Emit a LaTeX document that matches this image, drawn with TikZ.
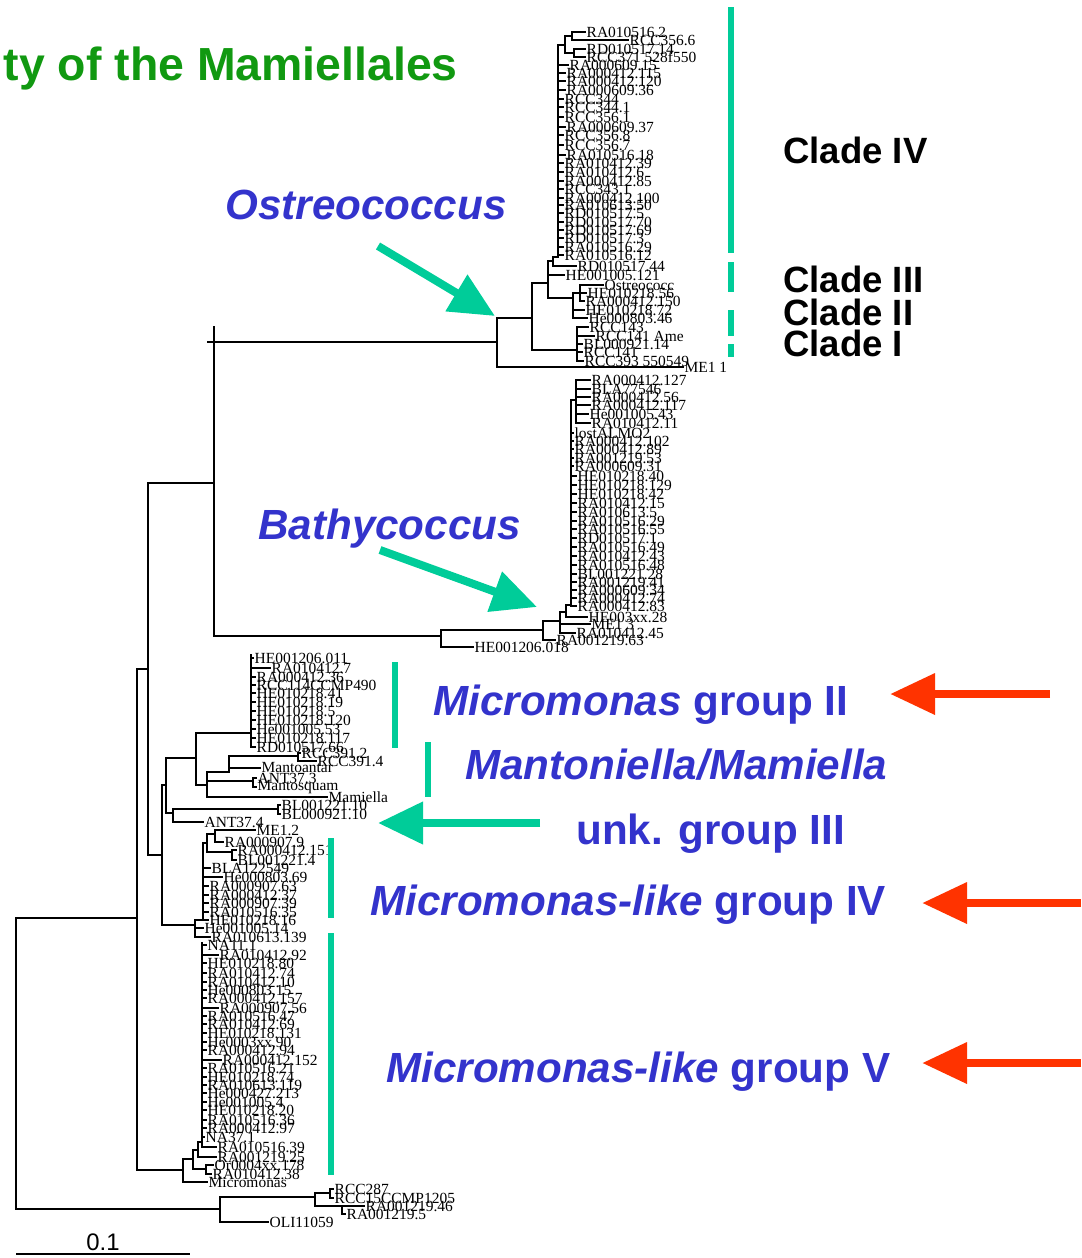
\documentclass[tikz,border=0pt]{standalone}
\usepackage{fontspec}
\setmainfont{Liberation Serif}
\setsansfont{Liberation Sans}
\usepackage{tikz}
\usetikzlibrary{arrows.meta, positioning}
\definecolor{mamblue}{RGB}{51,51,204}
\definecolor{mamteal}{RGB}{0,204,153}
\definecolor{mamred}{RGB}{255,51,0}
\definecolor{mamgreen}{RGB}{17,153,17}
\tikzset{
    branch/.style={line width=1.7pt, line cap=rect},
    leaf/.style={anchor=west, inner sep=1pt, font=\fontsize{11pt}{11pt}\selectfont},
    genus/.style={anchor=base west, inner sep=0pt, text=mamblue, font=\sffamily\bfseries\itshape\fontsize{30pt}{30pt}\selectfont},
    grouplabel/.style={anchor=base west, inner sep=0pt, text=mamblue, font=\sffamily\bfseries\fontsize{30pt}{30pt}\selectfont},
    cladelabel/.style={anchor=base west, inner sep=0pt, font=\sffamily\bfseries\fontsize{26pt}{26pt}\selectfont},
    cladebar/.style={draw=mamteal, line width=3.6pt},
    pointer/.style={draw=mamteal, line width=5.7pt, -{Triangle[length=32pt, width=29pt]}},
    redpointer/.style={draw=mamred, line width=6.2pt, -{Triangle[length=32pt, width=28pt]}}
}

\begin{document}
\begin{tikzpicture}[x=0.025cm, y=-0.025cm]
    \useasboundingbox (0,0) rectangle (1081,1258);

    % backbone
    \coordinate (root) at (16,1063);
    \coordinate (n137) at (137,918);
    \coordinate (n148) at (148,669);
    \coordinate (n214) at (214,483);
    \coordinate (n162) at (162,855);
    \coordinate (n166) at (166,785);
    \coordinate (n195) at (195,925);
    \coordinate (n183) at (183,1170);
    \coordinate (nout) at (220,1209);
    \draw [branch] (root) |- (n137) (root) |- (nout);
    \draw [branch] (n137) |- (n148) (n137) |- (n183);
    \draw [branch] (n148) |- (n214) (n148) |- (n162);
    \draw [branch] (n162) |- (n166) (n162) |- (n195);

    % Ostreococcus
    \coordinate (n497) at (497,342);
    \coordinate (n532) at (532,318);
    \coordinate (n548) at (548,283);
    \coordinate (n553) at (553,261);
    \coordinate (ivT) at (558,45);
    \coordinate (ivB) at (558,257);
    \coordinate (nIVa) at (565,45);
    \coordinate (nIVb) at (572,36);
    \coordinate (nIVc) at (574,53);
    \coordinate (nII) at (573,298);
    \coordinate (nIIa) at (580,293);
    \coordinate (nI) at (577,350);
    \draw [branch] (n214 |- n497) ++(-6,0) -- ++(6,0) -- ++(0,-15);
    \draw [branch] (n214) |- (n497);
    \node (me11) [leaf] at (683,367) {ME1 1};
    \draw [branch] (n497) |- (n532) (n497) |- (me11);
    \draw [branch] (n532) |- (n548) (n532) |- (nI);
    \node (he001005121) [leaf] at (564,275) {HE001005.121};
    \node (rd01051744) [leaf] at (576,266) {RD010517.44};
    \draw [branch] (n548) |- (n553) (n548) |- (he001005121) (n548) |- (nII);
    \draw [branch] (n553) |- (ivB) (n553) |- (rd01051744);
    \draw [branch] (ivT) -- (ivB) (ivT) -- (nIVa);
    \draw [branch] (nIVa) |- (nIVb) (nIVa) |- (nIVc);
    \node (ra0105162) [leaf] at (585,32) {RA010516.2};
    \node (rcc3566) [leaf] at (628,40) {RCC356.6};
    \node (rd01051714) [leaf] at (585,49) {RD010517.14};
    \node (rcc371) [leaf] at (585,57) {RCC371 528f550};
    \draw [branch] (nIVb) |- (ra0105162) (nIVb) |- (rcc3566);
    \draw [branch] (nIVc) |- (rd01051714) (nIVc) |- (rcc371);
    \foreach \yy/\tx/\lab [count=\i] in {65/568/RA000609.15, 73/565/RA000412.115, 81/565/RA000412.120,
        90/565/RA000609.36, 99/563/RCC344, 107/563/RCC344.1, 117/563/RCC356.1, 127/565/RA000609.37,
        135/563/RCC356.8, 145/563/RCC356.7, 155/565/RA010516.18, 163/563/RA010412.39, 172/563/RA010412.6,
        181/563/RA000412.85, 189/563/RCC343.1, 198/563/RA000412.100, 205/563/RA010613.50, 213/563/RD010517.5,
        222/563/RD010517.70, 230/563/RD010517.69, 238/563/RD010517.3, 247/563/RA010516.29, 255/563/RA010516.12} {
        \node (iv\i) [leaf] at (\tx,\yy) {\lab};
        \draw [branch] (ivT |- iv\i) -- (iv\i);
    }
    \node (ostreococc) [leaf] at (603,285) {Ostreococc};
    \node (he01021856) [leaf] at (586,293) {HE010218.56};
    \node (ra000412150) [leaf] at (584,301) {RA000412.150};
    \node (he01021872) [leaf] at (584,310) {HE010218.72};
    \node (he00080346) [leaf] at (587,318) {He000803.46};
    \draw [branch] (nII) |- (nIIa) (nII) |- (he01021872) (nII) |- (he00080346);
    \draw [branch] (nIIa) |- (ostreococc) (nIIa) |- (he01021856) (nIIa) |- (ra000412150);
    \foreach \yy/\tx/\lab [count=\i] in {327/588/RCC143, 336/594/RCC141 Ame, 344/582/BL000921.14,
        352/582/RCC141, 361/583/RCC393 550549} {
        \node (ci\i) [leaf] at (\tx,\yy) {\lab};
        \draw [branch] (nI) |- (ci\i);
    }

    % Bathycoccus
    \coordinate (n441) at (441,636);
    \coordinate (n543) at (543,630);
    \coordinate (n560) at (560,621);
    \coordinate (n566) at (566,612);
    \coordinate (bT) at (571,400);
    \coordinate (bB) at (571,605);
    \coordinate (nBt) at (576,400);
    \node (he001206018) [leaf] at (473,647) {HE001206.018};
    \node (ra00121963) [leaf] at (555,640) {RA001219.63};
    \node (me13) [leaf] at (590,624) {ME1 3};
    \node (ra01041245) [leaf] at (575,633) {RA010412.45};
    \node (he003xx28) [leaf] at (587,617) {HE003xx.28};
    \draw [branch] (n214) |- (n441);
    \draw [branch] (n441) |- (n543) (n441) |- (he001206018);
    \draw [branch] (n543) |- (n560) (n543) |- (ra00121963);
    \draw [branch] (n560) |- (n566) (n560) |- (me13) (n560) |- (ra01041245);
    \draw [branch] (n566) |- (bB) (n566) |- (he003xx28);
    \draw [branch] (bT) -- (bB) (bT) -- (nBt);
    \foreach \yy/\tx/\lab [count=\i] in {380/590/RA000412.127, 389/590/BLA77546, 397/590/RA000412.56,
        405/590/RA000412.117, 414/588/He001005.43, 423/590/RA010412.11} {
        \node (bt\i) [leaf] at (\tx,\yy) {\lab};
        \draw [branch] (nBt) |- (bt\i);
    }
    \foreach \yy/\tx/\lab [count=\i] in {433/573/lostALMO2, 441/573/RA000412.102, 449/573/RA000412.89,
        458/573/RA001219.53, 466/573/RA000609.31, 476/576/HE010218.40, 485/576/HE010218.129,
        494/576/HE010218.42, 503/576/RA010412.15, 512/576/RA010613.5, 521/576/RA010516.29,
        529/576/RA010516.55, 538/576/RD010517.1, 547/576/RA010516.49, 556/576/RA010412.43,
        565/576/RA010516.48, 574/576/BL001221.28, 582/576/RA001219.41, 590/576/RA000609.34,
        598/576/RA000412.74, 606/576/RA000412.83} {
        \node (bc\i) [leaf] at (\tx,\yy) {\lab};
        \draw [branch] (bT |- bc\i) -- (bc\i);
    }

    % Micromonas group II and Mantoniella
    \coordinate (n196) at (196,758);
    \coordinate (n207) at (207,785);
    \coordinate (n229) at (229,772);
    \coordinate (nRCC) at (298,756);
    \coordinate (nAnt) at (253,781);
    \coordinate (n173) at (173,813);
    \coordinate (nBL) at (278,809);
    \coordinate (g2T) at (251,655);
    \coordinate (g2A) at (251,733);
    \coordinate (g2B) at (251,747);
    \draw [branch] (n166) |- (n196) (n166) |- (n173);
    \draw [branch] (n196) |- (g2A) (n196) |- (n207);
    \draw [branch] (g2T) -- (g2B);
    \foreach \yy/\tx/\lab [count=\i] in {658/253/HE001206.011, 668/270/RA010412.7, 677/255/RA000412.36,
        685/255/RCC114CCMP490, 693/255/HE010218.41, 702/255/HE010218.19, 711/255/HE010218.5,
        720/255/HE010218.120, 729/255/He001005.53, 738/255/HE010218.117, 747/255/RD010517.66} {
        \node (gii\i) [leaf] at (\tx,\yy) {\lab};
        \draw [branch] (g2T |- gii\i) -- (gii\i);
    }
    \node (rcc3912) [leaf] at (300,753) {RCC391.2};
    \node (rcc3914) [leaf] at (316,761) {RCC391.4};
    \node (mantoantar) [leaf] at (260,768) {Mantoantar};
    \node (ant373) [leaf] at (256,778) {ANT37.3};
    \node (mantosquam) [leaf] at (256,787) {Mantosquam};
    \node (mamiella) [leaf] at (327,797) {Mamiella};
    \draw [branch] (n207) |- (n229) (n207) |- (nAnt) (n207) |- (mamiella);
    \draw [branch] (n229) |- (nRCC) (n229) |- (mantoantar);
    \draw [branch] (nRCC) |- (rcc3912) (nRCC) |- (rcc3914);
    \draw [branch] (nAnt) |- (ant373) (nAnt) |- (mantosquam);
    \node (bl00122110) [leaf] at (280,805) {BL001221.10};
    \node (bl00092110) [leaf] at (280,814) {BL000921.10};
    \node (ant374) [leaf] at (203,822) {ANT37.4};
    \draw [branch] (n173) |- (nBL) (n173) |- (ant374);
    \draw [branch] (nBL) |- (bl00122110) (nBL) |- (bl00092110);

    % Micromonas-like group IV
    \coordinate (g4T) at (203,843);
    \coordinate (g4B) at (203,920);
    \coordinate (gA) at (207,843);
    \coordinate (gB) at (215,834);
    \coordinate (gC) at (232,852);
    \node (he00100514) [leaf] at (203,928) {He001005.14};
    \node (ra010613139) [leaf] at (210,937) {RA010613.139};
    \draw [branch] (n195) |- (g4B) (n195) |- (he00100514) (n195) |- (ra010613139);
    \draw [branch] (g4T) -- (g4B) (g4T) -- (gA);
    \draw [branch] (gA) |- (gB) (gA) |- (gC);
    \node (me12) [leaf] at (255,830) {ME1.2};
    \node (ra0009079) [leaf] at (223,842) {RA000907.9};
    \node (ra000412151) [leaf] at (236,850) {RA000412.151};
    \node (bl0012214) [leaf] at (236,860) {BL001221.4};
    \draw [branch] (gB) |- (me12) (gB) |- (ra0009079);
    \draw [branch] (gC) |- (ra000412151) (gC) |- (bl0012214);
    \foreach \yy/\tx/\lab [count=\i] in {868/210/BLA122549, 877/222/He000803.69, 886/208/RA000907.63,
        895/208/RA000412.37, 903/208/RA000907.39, 912/208/RA010516.35, 920/208/HE010218.16} {
        \node (giv\i) [leaf] at (\tx,\yy) {\lab};
        \draw [branch] (g4T |- giv\i) -- (giv\i);
    }

    % Micromonas-like group V
    \coordinate (n193) at (193,1159);
    \coordinate (n198) at (198,1150);
    \coordinate (n206) at (206,1169);
    \coordinate (g5T) at (202,943);
    \coordinate (g5A) at (202,1142);
    \coordinate (g5B) at (202,1147);
    \node (micromonas) [leaf] at (207,1182) {Micromonas};
    \node (or0004xx178) [leaf] at (213,1165) {Or0004xx.178};
    \node (ra01041238) [leaf] at (211,1174) {RA010412.38};
    \node (ra00121925) [leaf] at (216,1157) {RA001219.25};
    \draw [branch] (n183) |- (n193) (n183) |- (micromonas);
    \draw [branch] (n193) |- (n198) (n193) |- (n206);
    \draw [branch] (n206) |- (or0004xx178) (n206) |- (ra01041238);
    \draw [branch] (n198) |- (g5A) (n198) |- (ra00121925);
    \draw [branch] (g5T) -- (g5B);
    \foreach \yy/\tx/\lab [count=\i] in {945/206/NA11.1, 955/218/RA010412.92, 963/206/HE010218.80,
        973/206/RA010412.74, 982/206/RA010412.10, 990/206/He000803.15, 998/206/RA000412.157,
        1008/218/RA000907.56, 1016/206/RA010516.47, 1024/206/RA010412.69, 1033/206/HE010218.131,
        1042/206/He0003xx.90, 1050/206/RA000412.94, 1060/221/RA000412.152, 1068/206/RA010516.21,
        1077/206/HE010218.74, 1085/206/RA010613.119, 1093/206/He000427.213, 1102/206/He001005.4,
        1110/206/HE010218.20, 1120/206/RA010516.36, 1128/206/RA000412.97, 1137/204/NA37.1,
        1147/216/RA010516.39} {
        \node (gv\i) [leaf] at (\tx,\yy) {\lab};
        \draw [branch] (g5T |- gv\i) -- (gv\i);
    }

    % outgroup
    \coordinate (n315) at (315,1197);
    \coordinate (nP1) at (330,1193);
    \coordinate (nP2) at (342,1206);
    \node (oli11059) [leaf] at (268,1222) {OLI11059};
    \node (rcc287) [leaf] at (333,1189) {RCC287};
    \node (rcc15) [leaf] at (333,1198) {RCC15CCMP1205};
    \node (ra00121946) [leaf] at (364,1206) {RA001219.46};
    \node (ra0012195) [leaf] at (345,1214) {RA001219.5};
    \draw [branch] (nout) |- (n315) (nout) |- (oli11059);
    \draw [branch] (n315) |- (nP1) (n315) |- (nP2);
    \draw [branch] (nP1) |- (rcc287) (nP1) |- (rcc15);
    \draw [branch] (nP2) |- (ra00121946) (nP2) |- (ra0012195);

    % scale bar
    \coordinate (sbL) at (16,1254);
    \coordinate (sbR) at (190,1254);
    \draw [branch, line cap=butt] (sbL) -- coordinate (sbM) (sbR);
    \node (scale) [above=2pt of sbM, inner sep=0pt, font=\sffamily\fontsize{17pt}{17pt}\selectfont] {0.1};

    % clade bars
    \draw [cladebar] (731,7) -- (731,253);
    \draw [cladebar] (731,262) -- (731,292);
    \draw [cladebar] (731,310) -- (731,336);
    \draw [cladebar] (731,344) -- (731,357);
    \draw [cladebar] (395,662) -- (395,748);
    \draw [cladebar] (428,742) -- (428,797);
    \draw [cladebar] (331,838) -- (331,918);
    \draw [cladebar] (331,933) -- (331,1175);

    % labels
    \node (title) [anchor=base east, inner sep=0pt, text=mamgreen, font=\sffamily\bfseries\fontsize{33pt}{33pt}\selectfont] at (458,80) {ty of the Mamiellales};
    \node (cladeIV) [cladelabel] at (783,163) {Clade IV};
    \node (cladeIII) [cladelabel] at (783,292) {Clade III};
    \node (cladeII) [cladelabel] at (783,325) {Clade II};
    \node (cladeI) [cladelabel] at (783,356) {Clade I};
    \node (ostreo) [genus] at (225,219) {Ostreococcus};
    \node (bathy) [genus] at (258,539) {Bathycoccus};
    \node (micII) [grouplabel] at (433,715) {\textit{Micromonas} group II};
    \node (manto) [genus] at (465,779) {Mantoniella/Mamiella};
    \node (unkIII) [grouplabel] at (576,844) {unk. group III};
    \node (micIV) [grouplabel] at (370,915) {\textit{Micromonas-like} group IV};
    \node (micV) [grouplabel] at (386,1082) {\textit{Micromonas-like} group V};

    % pointers
    \coordinate (ostTail) at (378,246);
    \coordinate (ostTip) at (495,316);
    \coordinate (bathyTail) at (380,550);
    \coordinate (bathyTip) at (537,607);
    \coordinate (unkTail) at (540,823);
    \coordinate (unkTip) at (378,823);
    \draw [pointer] (ostTail) -- (ostTip);
    \draw [pointer] (bathyTail) -- (bathyTip);
    \draw [pointer] (unkTail) -- (unkTip);
    \coordinate (redIITail) at (1050,694);
    \coordinate (redIITip) at (890,694);
    \coordinate (redIVTail) at (1081,903);
    \coordinate (redIVTip) at (922,903);
    \coordinate (redVTail) at (1081,1063);
    \coordinate (redVTip) at (922,1063);
    \draw [redpointer] (redIITail) -- (redIITip);
    \draw [redpointer] (redIVTail) -- (redIVTip);
    \draw [redpointer] (redVTail) -- (redVTip);
\end{tikzpicture}
\end{document}
